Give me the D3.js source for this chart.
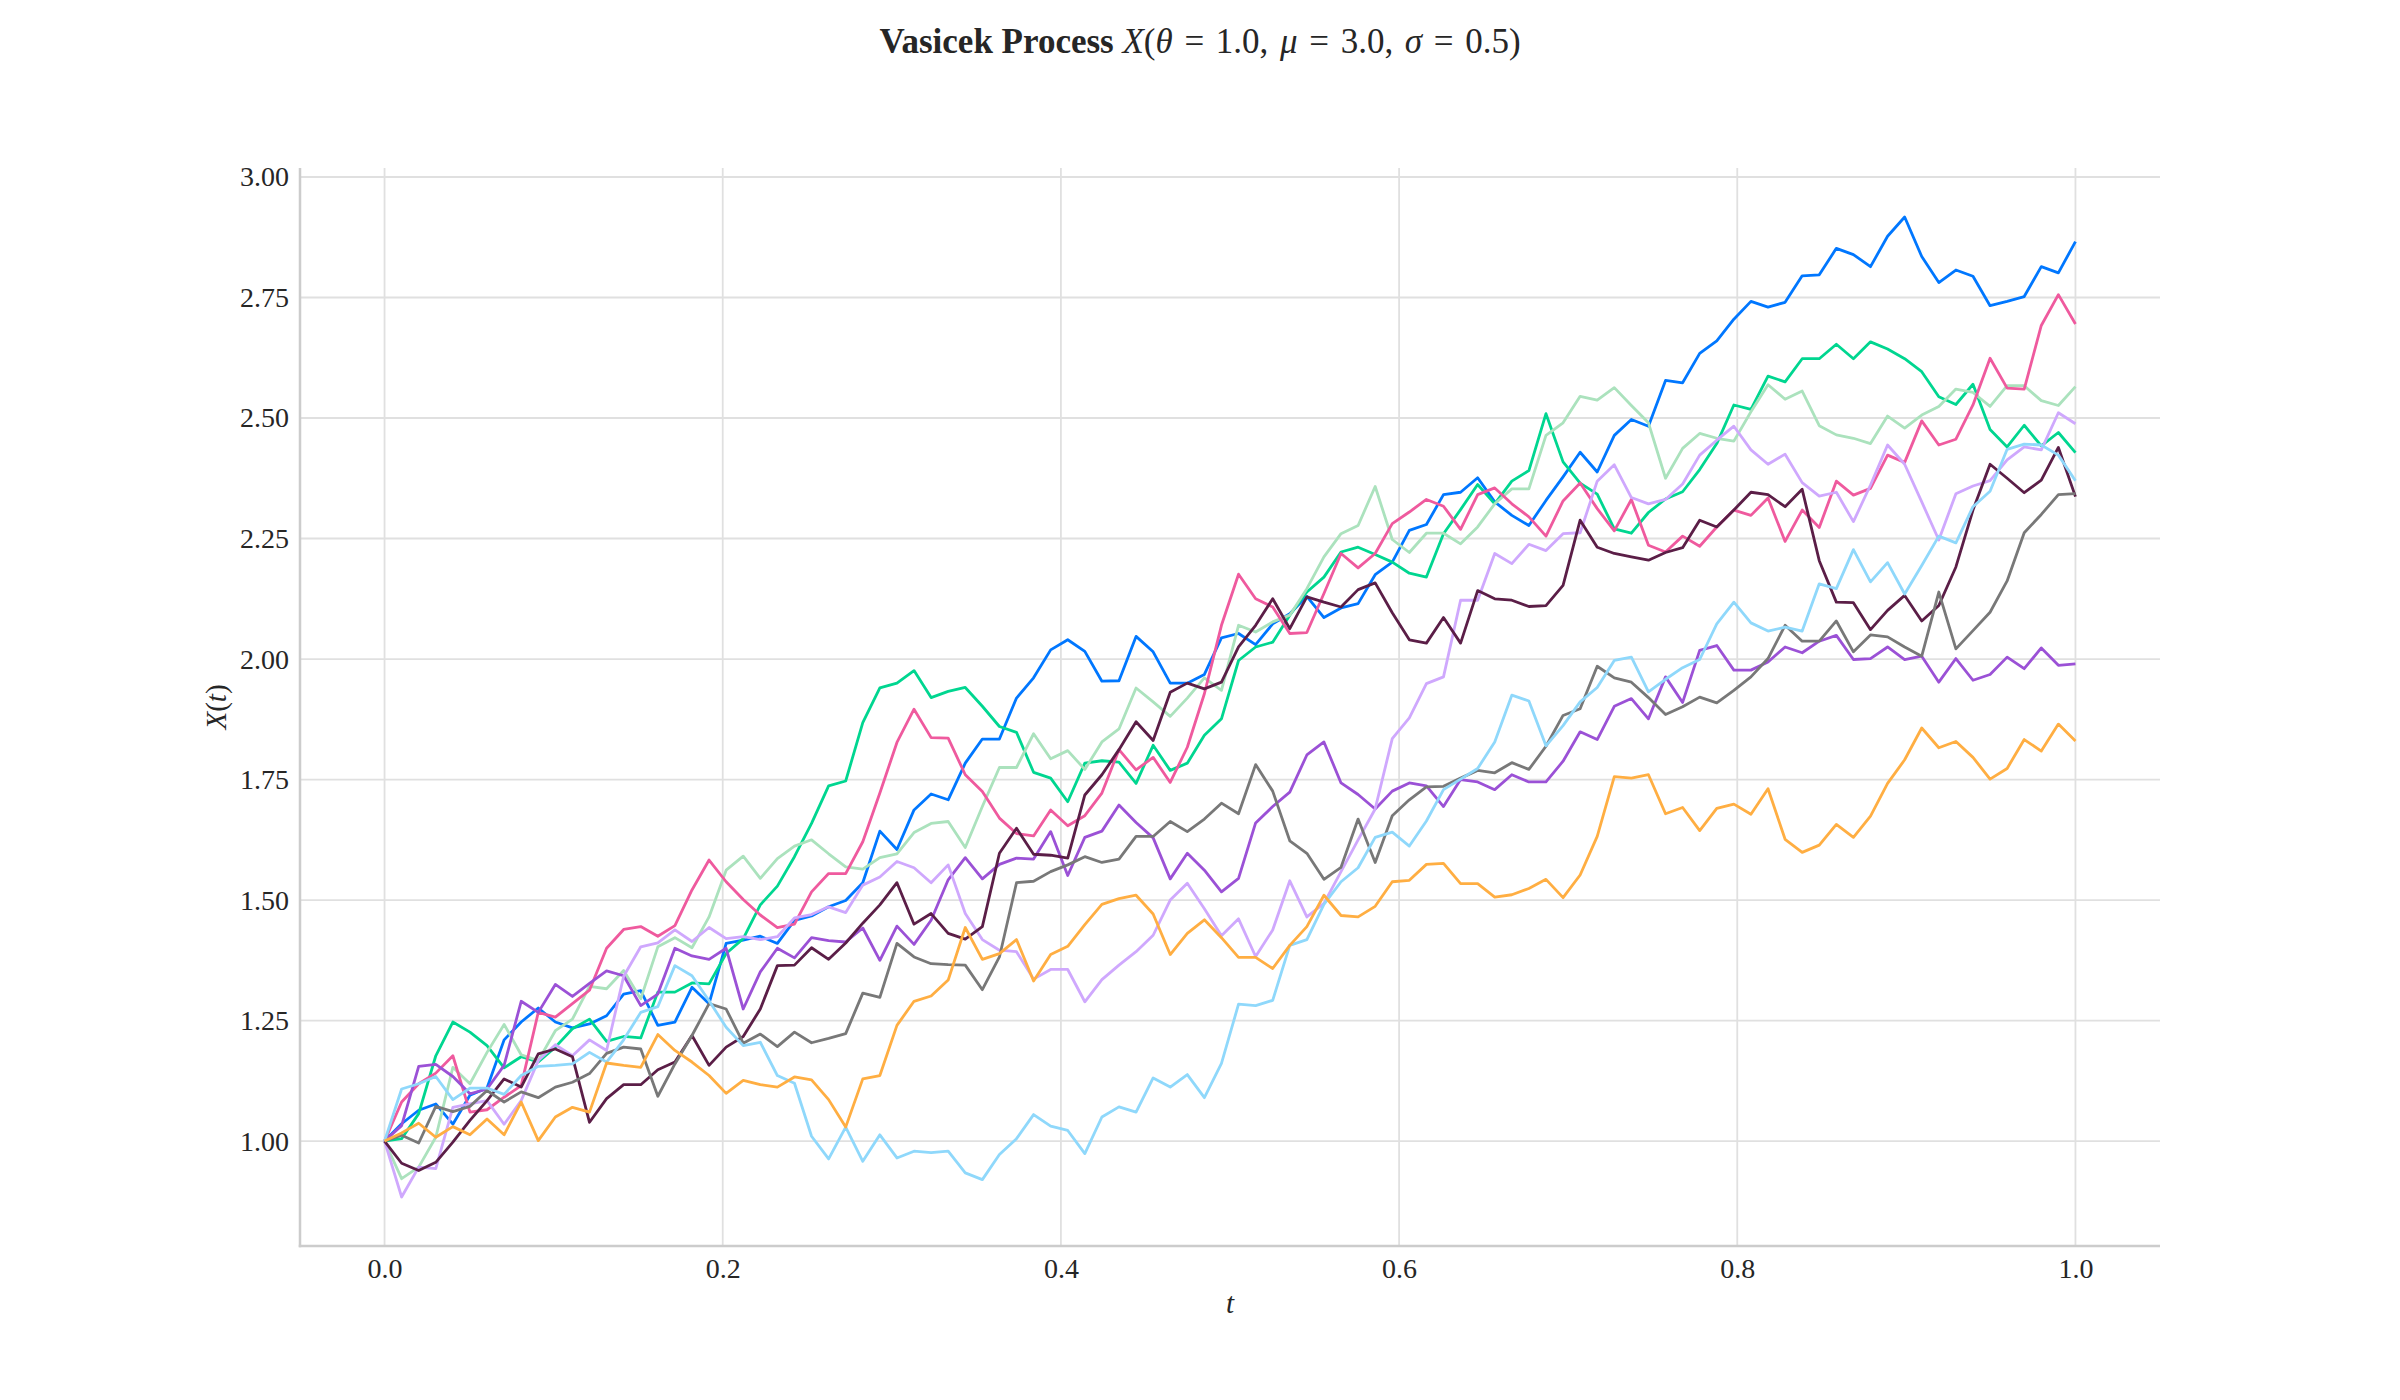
<!DOCTYPE html>
<html>
<head>
<meta charset="utf-8">
<script src="https://cdn.jsdelivr.net/npm/d3@7"></script>
<style>
  html, body { margin: 0; padding: 0; background: #ffffff; }
  svg { display: block; }
  text { font-family: "Liberation Serif", "DejaVu Serif", serif; fill: #262626; }
</style>
</head>
<body>
<svg id="chart" width="2400" height="1400"></svg>
<script>
// ---------------- DATA ----------------
const nSteps = 99;                       // 100 sample points on [0, 1]
const xTicks = [0.0, 0.2, 0.4, 0.6, 0.8, 1.0];
const yTicks = [1.00, 1.25, 1.50, 1.75, 2.00, 2.25, 2.50, 2.75, 3.00];

const pathBlue = [1.000,1.036,1.064,1.077,1.035,1.095,1.110,1.210,1.247,1.276,
1.247,1.235,1.243,1.260,1.305,1.312,1.240,1.247,1.319,1.285,
1.410,1.417,1.425,1.410,1.458,1.467,1.486,1.499,1.536,1.643,
1.605,1.687,1.720,1.708,1.784,1.834,1.834,1.919,1.961,2.019,
2.040,2.016,1.954,1.955,2.047,2.015,1.950,1.950,1.968,2.044,
2.053,2.030,2.073,2.094,2.130,2.086,2.106,2.115,2.175,2.201,
2.267,2.279,2.341,2.346,2.376,2.326,2.298,2.277,2.329,2.378,
2.429,2.388,2.464,2.497,2.483,2.578,2.573,2.634,2.660,2.705,
2.742,2.730,2.740,2.795,2.797,2.852,2.839,2.814,2.877,2.917,
2.835,2.781,2.807,2.794,2.733,2.742,2.752,2.814,2.801,2.866];

const pathTeal = [1.000,1.005,1.057,1.177,1.247,1.226,1.198,1.152,1.175,1.164,
1.195,1.233,1.253,1.207,1.217,1.214,1.309,1.309,1.328,1.326,
1.389,1.420,1.490,1.529,1.590,1.659,1.737,1.747,1.868,1.940,
1.950,1.976,1.920,1.933,1.941,1.902,1.860,1.848,1.765,1.753,
1.704,1.784,1.789,1.786,1.742,1.821,1.769,1.784,1.842,1.876,
1.997,2.025,2.035,2.091,2.139,2.170,2.222,2.232,2.217,2.201,
2.178,2.170,2.260,2.310,2.362,2.322,2.369,2.391,2.509,2.409,
2.365,2.342,2.270,2.261,2.304,2.332,2.347,2.393,2.447,2.527,
2.518,2.587,2.575,2.623,2.623,2.653,2.623,2.658,2.643,2.623,
2.596,2.544,2.528,2.570,2.476,2.440,2.485,2.442,2.470,2.428];

const pathMint = [1.000,0.922,0.946,1.008,1.153,1.119,1.184,1.242,1.179,1.167,
1.229,1.253,1.321,1.316,1.354,1.295,1.403,1.422,1.401,1.465,
1.562,1.591,1.545,1.586,1.612,1.625,1.596,1.569,1.564,1.588,
1.596,1.640,1.659,1.663,1.609,1.694,1.775,1.775,1.845,1.793,
1.810,1.771,1.828,1.855,1.940,1.911,1.881,1.919,1.961,1.935,
2.070,2.056,2.077,2.091,2.146,2.212,2.260,2.277,2.358,2.248,
2.221,2.261,2.261,2.239,2.274,2.322,2.353,2.353,2.464,2.490,
2.545,2.537,2.563,2.526,2.490,2.375,2.437,2.468,2.458,2.452,
2.513,2.569,2.539,2.556,2.484,2.465,2.458,2.447,2.504,2.479,
2.506,2.524,2.560,2.553,2.524,2.567,2.567,2.536,2.526,2.565];

const pathPink = [1.000,1.081,1.119,1.141,1.177,1.060,1.065,1.091,1.115,1.267,
1.257,1.285,1.313,1.400,1.439,1.445,1.425,1.447,1.521,1.583,
1.538,1.501,1.469,1.443,1.450,1.517,1.555,1.555,1.621,1.722,
1.827,1.896,1.837,1.836,1.760,1.725,1.670,1.638,1.633,1.687,
1.654,1.675,1.722,1.812,1.770,1.796,1.744,1.817,1.928,2.070,
2.176,2.125,2.108,2.053,2.055,2.136,2.219,2.189,2.219,2.281,
2.305,2.331,2.317,2.269,2.341,2.355,2.322,2.295,2.255,2.328,
2.365,2.312,2.266,2.331,2.236,2.222,2.255,2.234,2.274,2.309,
2.298,2.334,2.244,2.309,2.273,2.369,2.340,2.354,2.423,2.408,
2.494,2.444,2.456,2.527,2.624,2.562,2.560,2.692,2.756,2.695];

const pathPurple = [1.000,1.032,1.155,1.159,1.134,1.098,1.108,1.157,1.290,1.267,
1.325,1.300,1.327,1.353,1.343,1.281,1.305,1.400,1.384,1.377,
1.400,1.274,1.351,1.400,1.380,1.422,1.416,1.413,1.442,1.375,
1.446,1.408,1.458,1.542,1.588,1.544,1.574,1.587,1.585,1.642,
1.551,1.630,1.643,1.697,1.661,1.629,1.544,1.597,1.562,1.517,
1.545,1.660,1.694,1.724,1.801,1.828,1.743,1.719,1.689,1.726,
1.743,1.737,1.694,1.750,1.745,1.729,1.760,1.745,1.745,1.788,
1.849,1.833,1.902,1.918,1.876,1.963,1.910,2.018,2.028,1.977,
1.977,1.994,2.025,2.013,2.037,2.049,1.999,2.001,2.025,1.999,
2.006,1.952,2.001,1.956,1.968,2.004,1.980,2.023,1.987,1.990];

const pathLavender = [1.000,0.884,0.946,0.943,1.070,1.077,1.084,1.035,1.084,1.167,
1.200,1.177,1.210,1.188,1.342,1.403,1.411,1.438,1.414,1.443,
1.420,1.424,1.418,1.424,1.463,1.470,1.486,1.474,1.531,1.548,
1.580,1.567,1.536,1.573,1.472,1.418,1.396,1.393,1.336,1.356,
1.356,1.289,1.335,1.365,1.393,1.427,1.500,1.535,1.482,1.426,
1.461,1.383,1.438,1.540,1.465,1.493,1.559,1.625,1.689,1.835,
1.878,1.949,1.963,2.122,2.122,2.219,2.198,2.238,2.225,2.260,
2.262,2.369,2.403,2.335,2.322,2.331,2.363,2.423,2.454,2.483,
2.434,2.404,2.425,2.366,2.338,2.346,2.285,2.361,2.444,2.404,
2.326,2.247,2.343,2.359,2.370,2.413,2.440,2.434,2.511,2.488];

const pathMaroon = [1.000,0.954,0.939,0.956,0.998,1.043,1.084,1.129,1.112,1.181,
1.191,1.175,1.039,1.088,1.117,1.117,1.148,1.164,1.219,1.157,
1.195,1.217,1.274,1.364,1.365,1.401,1.377,1.411,1.452,1.490,
1.536,1.450,1.472,1.431,1.419,1.445,1.597,1.649,1.595,1.593,
1.587,1.718,1.760,1.812,1.870,1.831,1.931,1.950,1.938,1.952,
2.025,2.070,2.125,2.063,2.129,2.118,2.108,2.144,2.158,2.096,
2.040,2.033,2.086,2.033,2.142,2.125,2.122,2.109,2.111,2.153,
2.288,2.232,2.219,2.212,2.205,2.221,2.231,2.288,2.274,2.309,
2.346,2.341,2.316,2.352,2.204,2.118,2.117,2.061,2.101,2.132,
2.079,2.111,2.191,2.309,2.404,2.375,2.345,2.371,2.439,2.337];

const pathGray = [1.000,1.012,0.996,1.072,1.061,1.072,1.105,1.081,1.102,1.090,
1.112,1.122,1.140,1.182,1.195,1.191,1.093,1.160,1.219,1.285,
1.274,1.203,1.222,1.196,1.226,1.204,1.213,1.223,1.307,1.298,
1.410,1.382,1.368,1.366,1.365,1.314,1.382,1.536,1.539,1.559,
1.573,1.590,1.578,1.585,1.632,1.632,1.663,1.642,1.668,1.701,
1.679,1.781,1.726,1.623,1.597,1.543,1.568,1.668,1.578,1.675,
1.708,1.735,1.736,1.753,1.769,1.764,1.785,1.771,1.819,1.883,
1.897,1.985,1.961,1.952,1.920,1.885,1.901,1.921,1.909,1.935,
1.963,2.001,2.070,2.037,2.037,2.079,2.015,2.050,2.046,2.025,
2.006,2.139,2.021,2.059,2.097,2.162,2.262,2.300,2.341,2.343];

const pathSky = [1.000,1.108,1.119,1.134,1.086,1.110,1.110,1.097,1.136,1.155,
1.157,1.160,1.184,1.164,1.210,1.267,1.279,1.364,1.343,1.291,
1.236,1.198,1.205,1.136,1.120,1.010,0.963,1.029,0.958,1.013,
0.965,0.979,0.976,0.979,0.934,0.920,0.972,1.005,1.055,1.031,
1.022,0.974,1.050,1.071,1.060,1.131,1.112,1.138,1.090,1.161,
1.284,1.281,1.292,1.406,1.418,1.491,1.538,1.567,1.630,1.641,
1.612,1.664,1.729,1.751,1.773,1.828,1.925,1.913,1.820,1.862,
1.911,1.941,1.997,2.004,1.932,1.958,1.982,1.999,2.073,2.118,
2.075,2.058,2.066,2.058,2.156,2.146,2.227,2.160,2.200,2.135,
2.194,2.255,2.241,2.316,2.348,2.435,2.446,2.444,2.423,2.370];

const pathOrange = [1.000,1.017,1.037,1.008,1.030,1.013,1.046,1.013,1.081,1.001,
1.050,1.070,1.060,1.162,1.157,1.153,1.221,1.188,1.164,1.136,
1.099,1.126,1.117,1.112,1.133,1.127,1.086,1.029,1.129,1.136,
1.240,1.290,1.301,1.334,1.443,1.377,1.389,1.418,1.332,1.387,
1.404,1.449,1.491,1.503,1.510,1.471,1.387,1.431,1.459,1.422,
1.381,1.381,1.358,1.406,1.445,1.510,1.468,1.465,1.487,1.538,
1.541,1.574,1.576,1.534,1.534,1.506,1.511,1.524,1.543,1.505,
1.552,1.632,1.756,1.753,1.760,1.679,1.692,1.644,1.690,1.699,
1.678,1.731,1.626,1.599,1.614,1.657,1.630,1.674,1.742,1.791,
1.857,1.816,1.829,1.796,1.751,1.773,1.833,1.809,1.865,1.830];

const seriesList = [pathBlue, pathTeal, pathMint, pathPink, pathPurple,
                    pathLavender, pathMaroon, pathGray, pathSky, pathOrange];
const seriesColors = ["#0077ff", "#00d690", "#abe2bd", "#ef5a9e", "#9b51d6",
                      "#cfa8fd", "#5b1e47", "#787878", "#8fd8fb", "#ffae42"];

// ---------------- LAYOUT ----------------
const svg = d3.select("#chart");
const L = 300, R = 2160, T = 168, B = 1246;

const allVals = seriesList.flat();
const yMin = d3.min(allVals), yMax = d3.max(allVals);
const yPad = 0.05 * (yMax - yMin);

const x = d3.scaleLinear().domain([-0.05, 1.05]).range([L, R]);
const y = d3.scaleLinear().domain([yMin - yPad, yMax + yPad]).range([B, T]);

// grid
const grid = svg.append("g").attr("class", "grid");
grid.selectAll("line.gx").data(xTicks).join("line")
  .attr("x1", d => x(d)).attr("x2", d => x(d))
  .attr("y1", T).attr("y2", B)
  .attr("stroke", "#e0e0e0").attr("stroke-width", 1.8);
grid.selectAll("line.gy").data(yTicks).join("line")
  .attr("x1", L).attr("x2", R)
  .attr("y1", d => y(d)).attr("y2", d => y(d))
  .attr("stroke", "#e0e0e0").attr("stroke-width", 1.8);

// lines
const line = d3.line()
  .x((d, i) => x(i / nSteps))
  .y(d => y(d));

svg.append("g").attr("class", "paths")
  .selectAll("path").data(seriesList).join("path")
  .attr("d", d => line(d))
  .attr("fill", "none")
  .attr("stroke", (d, i) => seriesColors[i])
  .attr("stroke-width", 2.8)
  .attr("stroke-linejoin", "round")
  .attr("stroke-linecap", "butt");

// axes (no tick marks, labels only)
const xAxis = d3.axisBottom(x).tickValues(xTicks).tickFormat(d3.format(".1f"))
  .tickSize(0).tickPadding(12);
const yAxis = d3.axisLeft(y).tickValues(yTicks).tickFormat(d3.format(".2f"))
  .tickSize(0).tickPadding(11);

const gx = svg.append("g").attr("transform", `translate(0,${B})`).call(xAxis);
const gy = svg.append("g").attr("transform", `translate(${L},0)`).call(yAxis);
[gx, gy].forEach(g => {
  g.select(".domain").remove();
  g.selectAll("text").style("font-size", "28px")
    .style("font-family", '"Liberation Serif","DejaVu Serif",serif').attr("fill", "#262626");
});
gx.selectAll("text").attr("dy", "0.71em");

// spines
svg.append("line").attr("x1", L).attr("x2", L).attr("y1", T).attr("y2", B + 1.25)
  .attr("stroke", "#cccccc").attr("stroke-width", 2.5);
svg.append("line").attr("x1", L - 1.25).attr("x2", R).attr("y1", B).attr("y2", B)
  .attr("stroke", "#cccccc").attr("stroke-width", 2.5);

// axis labels
svg.append("text").attr("x", (L + R) / 2).attr("y", 1313)
  .attr("text-anchor", "middle").style("font-size", "29px").style("font-style", "italic").text("t");

const yl = svg.append("text")
  .attr("transform", `translate(226,${(T + B) / 2}) rotate(-90)`)
  .attr("text-anchor", "middle").style("font-size", "29px");
yl.append("tspan").style("font-style", "italic").text("X");
yl.append("tspan").text("(");
yl.append("tspan").style("font-style", "italic").text("t");
yl.append("tspan").text(")");

// title
const sp = "\u2004";
const title = svg.append("text").attr("x", 1200).attr("y", 53)
  .attr("text-anchor", "middle").style("font-size", "35px");
title.append("tspan").style("font-weight", "bold").text("Vasicek Process ");
title.append("tspan").style("font-style", "italic").text("X");
title.append("tspan").text("(");
title.append("tspan").style("font-style", "italic").text("θ");
title.append("tspan").text(`${sp}=${sp}1.0,${sp}`);
title.append("tspan").style("font-style", "italic").text("μ");
title.append("tspan").text(`${sp}=${sp}3.0,${sp}`);
title.append("tspan").style("font-style", "italic").text("σ");
title.append("tspan").text(`${sp}=${sp}0.5)`);
</script>
</body>
</html>
